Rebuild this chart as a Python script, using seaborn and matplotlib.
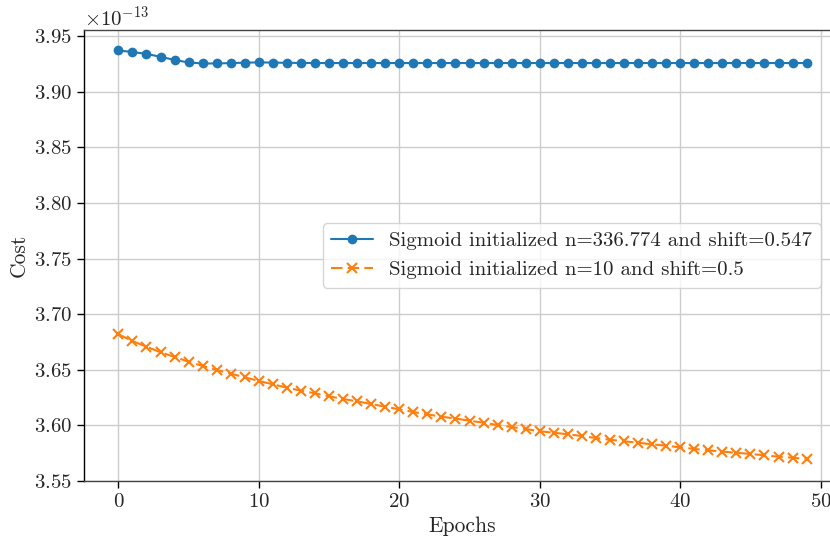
import numpy as np
import pandas as pd
import matplotlib
matplotlib.use("Agg")
import matplotlib.pyplot as plt
import seaborn as sns

epochs = list(range(50))
cost_a = [3.9370, 3.9356, 3.9339, 3.9313, 3.9285, 3.9262, 3.9253, 3.9253, 3.9257, 3.9260,
          3.9263, 3.9261, 3.9259, 3.9258, 3.9257, 3.9257, 3.9257, 3.9257, 3.9257, 3.9257,
          3.9257, 3.9257, 3.9257, 3.9257, 3.9257, 3.9257, 3.9257, 3.9257, 3.9257, 3.9257,
          3.9257, 3.9257, 3.9257, 3.9257, 3.9257, 3.9257, 3.9257, 3.9257, 3.9257, 3.9257,
          3.9257, 3.9257, 3.9257, 3.9257, 3.9257, 3.9257, 3.9257, 3.9257, 3.9257, 3.9257]
cost_b = [3.6819, 3.6758, 3.6707, 3.6657, 3.6615, 3.6572, 3.6534, 3.6498, 3.6465, 3.6432,
          3.6399, 3.6369, 3.6339, 3.6312, 3.6288, 3.6261, 3.6237, 3.6216, 3.6192, 3.6168,
          3.6144, 3.6120, 3.6099, 3.6078, 3.6061, 3.6042, 3.6024, 3.6003, 3.5985, 3.5967,
          3.5947, 3.5934, 3.5920, 3.5904, 3.5886, 3.5871, 3.5857, 3.5844, 3.5830, 3.5817,
          3.5803, 3.5788, 3.5776, 3.5764, 3.5754, 3.5743, 3.5731, 3.5718, 3.5709, 3.5698]
scale = 1e-13
label_a = "Sigmoid initialized n=336.774 and shift=0.547"
label_b = "Sigmoid initialized n=10 and shift=0.5"

sns.set_style("whitegrid")
plt.rcParams["font.family"] = ["cmr10", "DejaVu Serif"]
plt.rcParams["mathtext.fontset"] = "cm"
plt.rcParams["axes.formatter.use_mathtext"] = True
plt.rcParams["axes.unicode_minus"] = False

df = pd.DataFrame({
    "Epochs": epochs * 2,
    "Cost": [v * scale for v in cost_a] + [v * scale for v in cost_b],
    "series": [label_a] * len(epochs) + [label_b] * len(epochs),
})

fig = plt.figure(figsize=(8.3, 5.39), dpi=100)
ax = fig.add_axes([84 / 830, 58 / 539, 757 / 830, 451 / 539])

sns.lineplot(data=df[df.series == label_a], x="Epochs", y="Cost", ax=ax,
             color="#1f77b4", marker="o", markersize=7, markeredgewidth=0,
             markeredgecolor="#1f77b4", linewidth=1.5, label=label_a)
sns.lineplot(data=df[df.series == label_b], x="Epochs", y="Cost", ax=ax,
             color="#ff7f0e", marker="x", markersize=7, markeredgewidth=1.5,
             markeredgecolor="#ff7f0e", markerfacecolor="#ff7f0e",
             linewidth=1.5, label=label_b)
ax.lines[1].set_dashes([5.5, 2.5])

ax.set_ylim(3.55e-13, 3.9554e-13)
ax.set_yticks([v * 1e-13 for v in [3.55, 3.60, 3.65, 3.70, 3.75, 3.80, 3.85, 3.90, 3.95]])
ax.set_xticks([0, 10, 20, 30, 40, 50])
ax.grid(True, color="#cccccc", linewidth=1.0)

for s in ["left", "top", "bottom", "right"]:
    ax.spines[s].set_visible(True)
    ax.spines[s].set_linewidth(1.0)
ax.spines["left"].set_color("black")
ax.spines["top"].set_color("#444444")
ax.spines["bottom"].set_color("#444444")
ax.tick_params(axis="both", which="major", length=5, width=1.0, color="black",
               direction="out", labelsize=15, left=True, bottom=True)
ax.yaxis.get_offset_text().set_fontsize(15)
ax.set_xlabel("Epochs", fontsize=15.5)
ax.set_ylabel("Cost", fontsize=15.5)

leg = ax.legend(loc="center right", bbox_to_anchor=(747 / 757, 0.5), fontsize=15,
                frameon=True, framealpha=0.8, edgecolor="#cccccc", handlelength=2.0)
for h in leg.get_lines():
    h.set_markeredgecolor(h.get_color())
leg.get_lines()[1].set_dashes([5.5, 2.5])

fig.savefig("out.png", dpi=100)
